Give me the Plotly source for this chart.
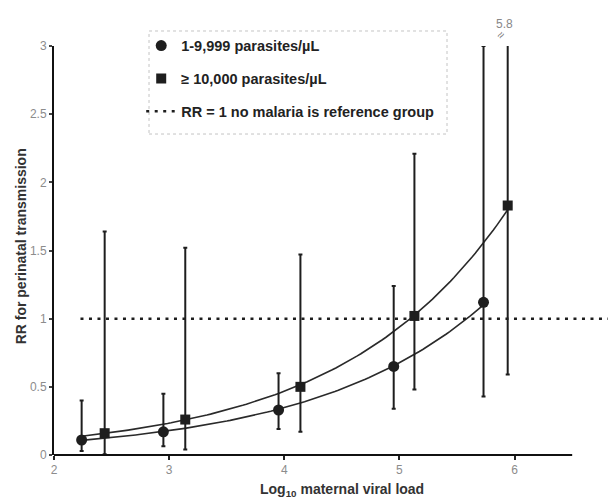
import numpy as np
import plotly.graph_objects as go

# ---- data ----
low_x = [2.24, 2.95, 3.95, 4.95, 5.73]
low_rr = [0.11, 0.17, 0.33, 0.65, 1.12]
low_lo = [0.03, 0.065, 0.19, 0.34, 0.43]
low_hi = [0.40, 0.45, 0.60, 1.24, 3.00]

high_x = [2.44, 3.14, 4.14, 5.13, 5.94]
high_rr = [0.16, 0.26, 0.50, 1.02, 1.83]
high_lo = [0.005, 0.04, 0.17, 0.48, 0.59]
high_hi = [1.64, 1.52, 1.47, 2.21, 5.80]

ref_x = [2.23, 6.95]
ref_y = [1, 1]

x_ticks = [2, 3, 4, 5, 6]
y_ticks = [0, 0.5, 1, 1.5, 2, 2.5, 3]
y_tick_text = ["0", "0.5", "1", "1.5", "2", "2.5", "3"]

names = ["1-9,999 parasites/µL", "≥ 10,000 parasites/µL",
         "RR = 1 no malaria is reference group"]

XMAX = 6.95
X_AXIS_END = 6.5
FONT = "Liberation Sans, Arial, sans-serif"
INK = "#1e1e1e"


def exp_trend(xs, ys, x_from, x_to):
    b, ln_a = np.polyfit(xs, np.log(ys), 1)
    xx = np.linspace(x_from, x_to, 120)
    return xx, np.exp(ln_a + b * xx)


fig = go.Figure()

# exponential trendlines (fitted to the data, as in the source chart)
start = min(low_x + high_x)
cx, cy = exp_trend(low_x, low_rr, start, max(low_x))
fig.add_trace(go.Scatter(x=cx, y=cy, mode="lines", showlegend=False,
                         line=dict(color="#2a2a2a", width=1.6), hoverinfo="skip"))
sx, sy = exp_trend(high_x, high_rr, start, max(high_x))
fig.add_trace(go.Scatter(x=sx, y=sy, mode="lines", showlegend=False,
                         line=dict(color="#2a2a2a", width=1.6), hoverinfo="skip"))

fig.add_trace(go.Scatter(
    x=low_x, y=low_rr, mode="markers", name=names[0], legendgroup="a",
    marker=dict(symbol="circle", size=11, color=INK),
    error_y=dict(type="data", symmetric=False,
                 array=[h - v for h, v in zip(low_hi, low_rr)],
                 arrayminus=[v - l for v, l in zip(low_rr, low_lo)],
                 color=INK, thickness=2, width=2)))

fig.add_trace(go.Scatter(
    x=high_x, y=high_rr, mode="markers", name=names[1], legendgroup="b",
    marker=dict(symbol="square", size=10, color=INK),
    error_y=dict(type="data", symmetric=False,
                 array=[h - v for h, v in zip(high_hi, high_rr)],
                 arrayminus=[v - l for v, l in zip(high_rr, high_lo)],
                 color=INK, thickness=2, width=2)))

fig.add_trace(go.Scatter(
    x=ref_x, y=ref_y, mode="lines", name=names[2], legendgroup="c",
    line=dict(color=INK, width=2.5, dash="3px,5.5px")))

fig.update_layout(
    width=616, height=500,
    margin=dict(l=46, r=0, t=38, b=53),
    paper_bgcolor="white", plot_bgcolor="white",
    font=dict(family=FONT, size=12, color="#888888"),
    showlegend=True,
    legend=dict(x=0.153, y=1.04, xanchor="left", yanchor="top",
                bgcolor="rgba(0,0,0,0)", borderwidth=0,
                traceorder="grouped", tracegroupgap=11,
                font=dict(family=FONT, size=14.5, color="#222222", weight="bold")),
    xaxis=dict(range=[2, XMAX], tickvals=x_ticks, showgrid=False, zeroline=False,
               showline=False, ticks="outside", ticklen=4, tickwidth=1.5,
               tickcolor="#222222", tickfont=dict(size=12, color="#8c8c8c")),
    yaxis=dict(range=[0, 3], tickvals=y_ticks, ticktext=y_tick_text,
               showgrid=False, zeroline=False, showline=True, linecolor="#111111",
               linewidth=2, ticks="outside", ticklen=3, tickwidth=1.5,
               tickcolor="#444444", tickfont=dict(size=12, color="#8c8c8c")),
    shapes=[
        # x-axis line ending at 6.5
        dict(type="line", xref="paper", yref="paper", x0=0,
             x1=(X_AXIS_END - 2) / (XMAX - 2), y0=0, y1=0,
             line=dict(color="#111111", width=2)),
        # legend frame
        dict(type="rect", xref="paper", yref="paper",
             x0=0.1667, x1=0.6895, y0=0.7848, y1=1.0367,
             line=dict(color="#c4c4c4", width=1, dash="dot")),
    ],
    annotations=[
        dict(text="<b>RR for perinatal transmission</b>", xref="paper", yref="paper",
             x=-0.058, y=0.51, xanchor="center", yanchor="middle",
             textangle=-90, showarrow=False,
             font=dict(family=FONT, size=14, color="#333333")),
        dict(text="<b>Log<sub>10</sub> maternal viral load</b>", xref="paper", yref="paper",
             x=0.506, y=-0.086, xanchor="center", yanchor="middle", showarrow=False,
             font=dict(family=FONT, size=14, color="#333333")),
        dict(text="5.8", xref="x", yref="paper", x=high_x[-1] - 0.03, y=1.055,
             xanchor="center", yanchor="middle",
             showarrow=False, font=dict(family=FONT, size=12, color="#888888")),
        dict(text="≈", xref="x", yref="paper", x=high_x[-1] - 0.06, y=1.028,
             xanchor="center", yanchor="middle", showarrow=False, textangle=-50,
             font=dict(family=FONT, size=12, color="#777777")),
    ],
)

fig.write_html("out.html")
